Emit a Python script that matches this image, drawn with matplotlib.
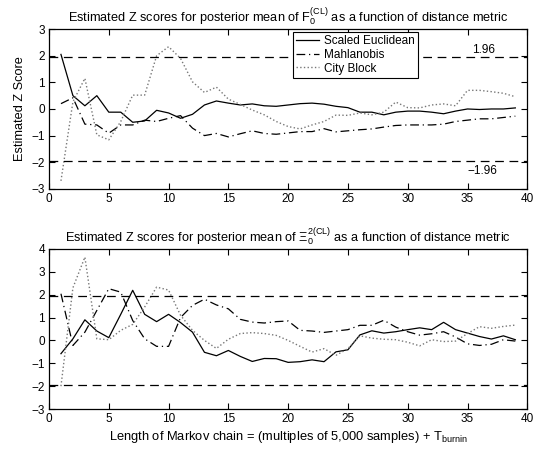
import numpy as np
import matplotlib
matplotlib.use("Agg")
import matplotlib.pyplot as plt

plt.rcParams["font.family"] = ["Liberation Sans", "DejaVu Sans"]
plt.rcParams["mathtext.fontset"] = "custom"
plt.rcParams["mathtext.rm"] = "Liberation Sans"
plt.rcParams["mathtext.it"] = "Liberation Sans"
plt.rcParams["font.size"] = 8

x = np.arange(1, 40)

# top panel: F_0^(CL)
euc_f = [2.05, 0.5, 0.12, 0.5, -0.12, -0.12, -0.5, -0.45, -0.05, -0.15,
         -0.35, -0.2, 0.15, 0.3, 0.22, 0.15, 0.19, 0.12, 0.1, 0.15,
         0.2, 0.22, 0.18, 0.1, 0.05, -0.12, -0.12, -0.22, -0.12, -0.08,
         -0.08, -0.12, -0.18, -0.08, 0.0, -0.02, 0.0, 0.0, 0.04]
mah_f = [0.2, 0.42, -0.57, -0.6, -0.91, -0.6, -0.6, -0.42, -0.47, -0.35,
         -0.25, -0.72, -1.0, -0.92, -1.05, -0.93, -0.82, -0.92, -0.95, -0.9,
         -0.85, -0.85, -0.74, -0.86, -0.82, -0.78, -0.75, -0.68, -0.62, -0.6,
         -0.6, -0.6, -0.57, -0.47, -0.42, -0.37, -0.37, -0.32, -0.27]
city_f = [-2.7, 0.27, 1.15, -0.97, -1.16, -0.47, 0.52, 0.52, 2.0, 2.34,
          1.9, 1.02, 0.62, 0.82, 0.37, 0.17, -0.04, -0.22, -0.47, -0.66,
          -0.75, -0.6, -0.47, -0.23, -0.24, -0.15, -0.22, -0.12, 0.26, 0.05,
          0.04, 0.15, 0.19, 0.12, 0.7, 0.7, 0.65, 0.59, 0.46]

# bottom panel: Xi_0^2(CL)
euc_x = [-0.58, 0.07, 0.9, 0.41, 0.12, 1.14, 2.19, 1.14, 0.82, 1.14,
         0.78, 0.36, -0.52, -0.67, -0.44, -0.7, -0.92, -0.79, -0.8, -0.96,
         -0.93, -0.85, -0.93, -0.5, -0.41, 0.24, 0.42, 0.32, 0.38, 0.47,
         0.55, 0.47, 0.79, 0.47, 0.32, 0.17, 0.06, 0.2, 0.03]
mah_x = [2.04, -0.22, 0.36, 1.31, 2.26, 2.11, 0.87, 0.07, -0.26, -0.26,
         1.0, 1.53, 1.8, 1.55, 1.38, 0.92, 0.8, 0.76, 0.82, 0.85,
         0.44, 0.41, 0.35, 0.41, 0.47, 0.66, 0.66, 0.88, 0.58, 0.38,
         0.23, 0.29, 0.38, 0.15, -0.15, -0.22, -0.17, 0.03, -0.03]
city_x = [-2.0, 2.3, 3.64, 0.07, 0.03, 0.44, 0.7, 1.46, 2.33, 2.2,
          1.1, 0.44, 0.0, -0.35, 0.05, 0.3, 0.34, 0.3, 0.22, 0.0,
          -0.26, -0.51, -0.36, -0.65, -0.36, 0.2, 0.1, 0.05, 0.03, -0.08,
          -0.24, 0.03, -0.05, -0.03, 0.3, 0.6, 0.53, 0.61, 0.67]

zcrit = 1.96

fig = plt.figure(figsize=(5.35, 4.55), dpi=100)
ax1 = fig.add_axes([0.0916, 0.585, 0.894, 0.351])
ax2 = fig.add_axes([0.0916, 0.101, 0.894, 0.352])

for ax, e, m, c, ylim in [(ax1, euc_f, mah_f, city_f, (-3, 3)),
                          (ax2, euc_x, mah_x, city_x, (-3, 4))]:
    ax.plot(x, e, "k-", lw=0.9, label="Scaled Euclidean")
    ax.plot(x, m, "k-.", lw=0.9, dashes=(7, 3, 1, 3), label="Mahlanobis")
    ax.plot(x, c, ":", color="#777777", lw=1.0, label="City Block")
    ax.axhline(zcrit, color="k", ls="--", lw=0.9, dashes=(7, 4.5))
    ax.axhline(-zcrit, color="k", ls="--", lw=0.9, dashes=(7, 4.5))
    ax.set_xlim(0, 40)
    ax.set_ylim(*ylim)
    ax.set_xticks(range(0, 41, 5))
    ax.set_yticks(range(ylim[0], ylim[1] + 1))
    ax.yaxis.set_major_formatter(plt.FuncFormatter(lambda v, p: f"{int(v)}".replace("-", "\u2212")))
    ax.tick_params(direction="in", top=True, right=True, length=4, width=0.8, labelsize=8.5, pad=3)
    for s in ax.spines.values():
        s.set_linewidth(0.9)

ax1.set_title(r"Estimated Z scores for posterior mean of $\mathrm{F}_0^{(\mathrm{CL})}$ as a function of distance metric",
              fontsize=9.2, pad=5)
ax2.set_title(r"Estimated Z scores for posterior mean of $\Xi_0^{2(\mathrm{CL})}$ as a function of distance metric",
              fontsize=9.2, pad=5)
ax1.set_ylabel("Estimated Z Score", fontsize=9.2, labelpad=4)
ax2.set_xlabel(r"Length of Markov chain = (multiples of 5,000 samples) + $\mathrm{T}_{\mathrm{burnin}}$", fontsize=9.3, labelpad=3)

ax1.text(35.4, 2.2, "1.96", fontsize=8.5, va="center")
ax1.text(35.0, -2.33, "\u22121.96", fontsize=8.5, va="center")

leg = ax1.legend(loc="upper left", bbox_to_anchor=(0.51, 0.985), fontsize=8.5, frameon=True,
                 fancybox=False, edgecolor="k", framealpha=1, handlelength=1.9,
                 borderpad=0.3, labelspacing=0.15, handletextpad=0.4, borderaxespad=0)
leg.get_frame().set_linewidth(0.8)

fig.savefig("out.png", dpi=100)
